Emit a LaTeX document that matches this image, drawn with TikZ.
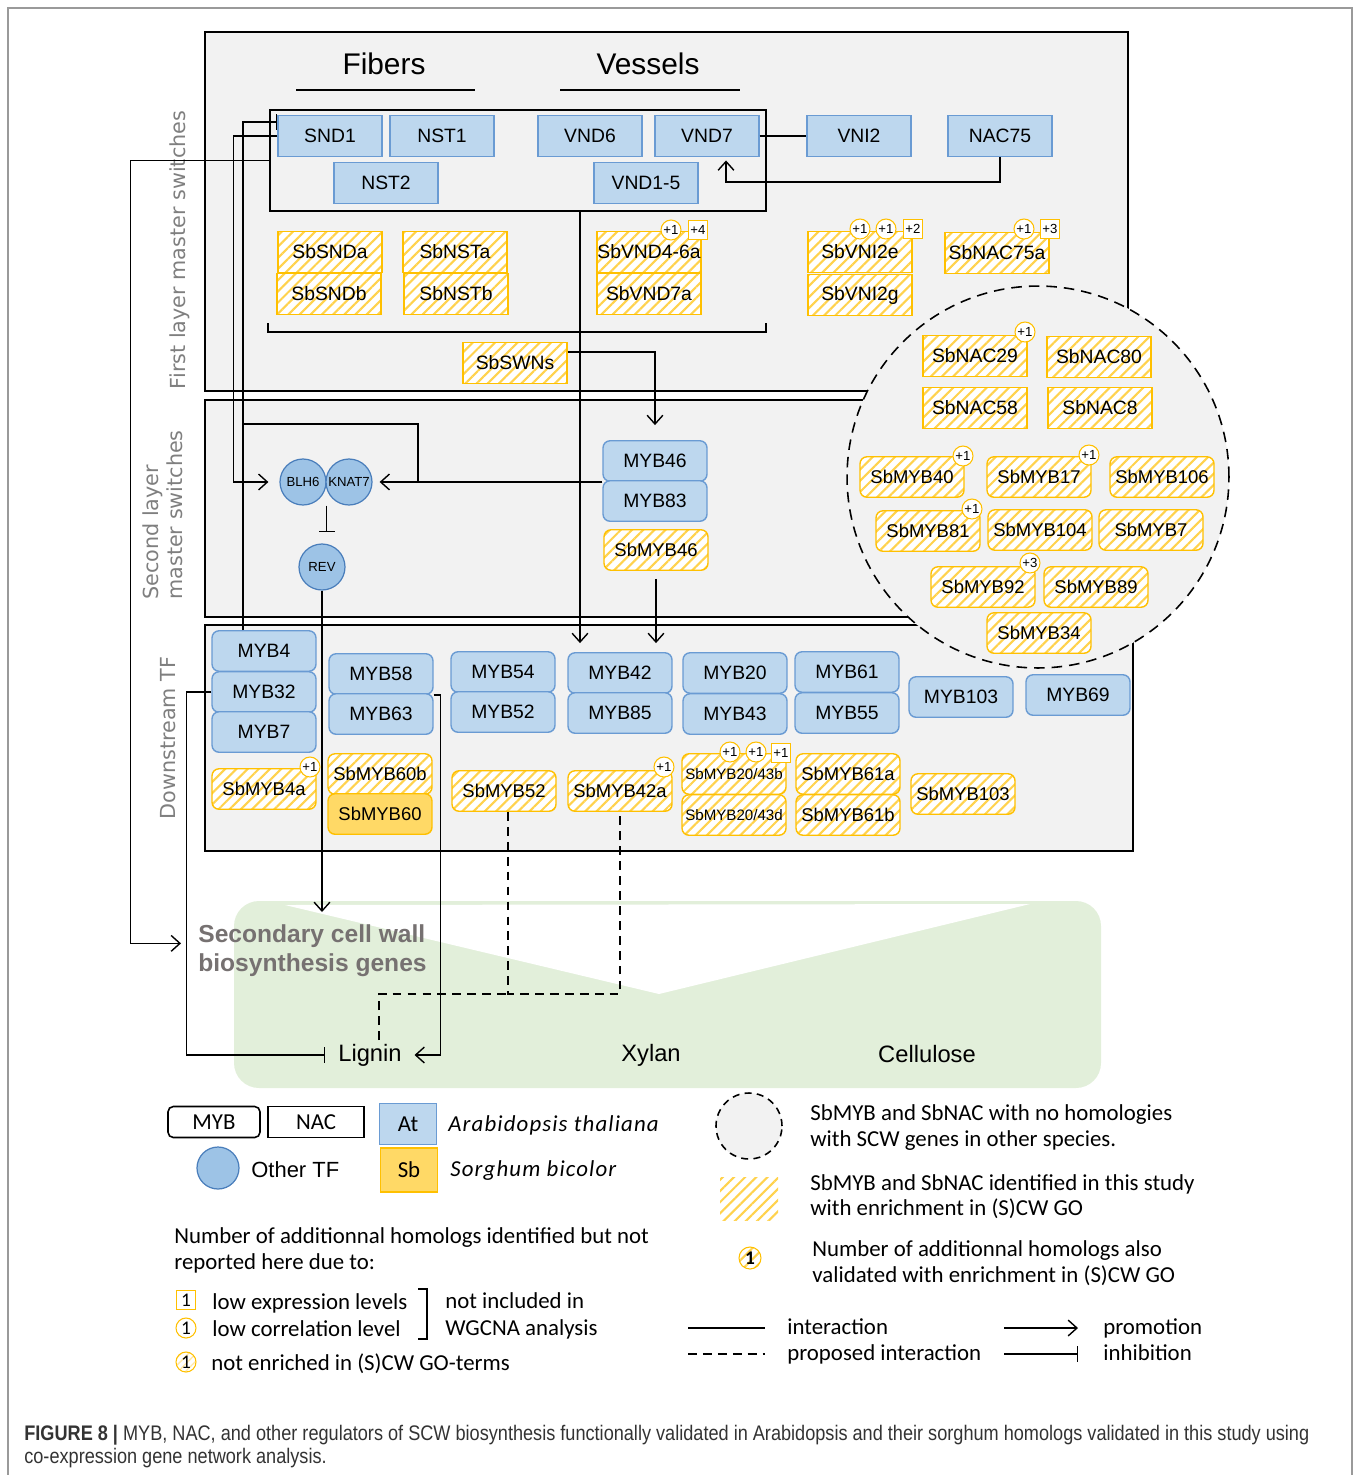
\documentclass[tikz,border=0pt]{standalone}
\usepackage{fontspec}
\setmainfont{Liberation Sans}
\newfontfamily\legfont{Carlito}
\newfontfamily\legitfont[LetterSpace=5]{Carlito}
\newfontfamily\sidefont{DejaVu Sans}
\newfontfamily\capfont[FakeStretch=0.86]{Liberation Sans}
\usetikzlibrary{arrows.meta,patterns.meta,positioning}

\definecolor{atfill}{HTML}{BDD7EE}
\definecolor{atedge}{HTML}{6A9BD3}
\definecolor{tffill}{HTML}{9DC3E6}
\definecolor{tfedge}{HTML}{4A7EBB}
\definecolor{sbhatch}{HTML}{FFD24D}
\definecolor{sbedge}{HTML}{FFC000}
\definecolor{sbfill}{HTML}{FFD966}
\definecolor{panel}{HTML}{F2F2F2}
\definecolor{wall}{HTML}{E2EFDA}
\definecolor{sidegray}{HTML}{7F7F7F}
\definecolor{wallgray}{HTML}{767171}
\definecolor{framegray}{HTML}{9A9A9A}
\definecolor{capgray}{HTML}{333333}

\tikzset{
	tf/.style={minimum width=2.08cm, minimum height=0.81cm, inner sep=0pt, font=\fontsize{11}{12}\selectfont},
	atnac/.style={tf, draw=atedge, fill=atfill, line width=0.8pt},
	atmyb/.style={atnac, rounded corners=4pt},
	hatch/.style={preaction={fill=white}, pattern={Lines[angle=45,distance=4.5pt,line width=1.2pt]}, pattern color=sbhatch},
	sbnac/.style={tf, hatch, draw=sbedge, line width=0.8pt},
	sbmyb/.style={sbnac, rounded corners=4pt, font=\fontsize{10.5}{11}\selectfont},
	sbsolid/.style={tf, draw=sbedge, fill=sbfill, line width=0.8pt, rounded corners=4pt, font=\fontsize{10.5}{11}\selectfont},
	othertf/.style={circle, draw=tfedge, fill=tffill, line width=0.7pt, minimum size=0.92cm, inner sep=0pt, font=\fontsize{7.5}{8}\selectfont},
	cbadge/.style={circle, draw=sbedge, fill=white, line width=0.6pt, minimum size=0.4cm, inner sep=0pt, font=\fontsize{7.5}{8}\selectfont},
	sqbadge/.style={rectangle, draw=sbedge, fill=white, line width=0.6pt, minimum size=0.38cm, inner sep=0pt, font=\fontsize{7.5}{8}\selectfont},
	sidelabel/.style={font=\sidefont\fontsize{11.8}{13}\selectfont, text=sidegray, inner sep=0pt},
	wallname/.style={font=\bfseries\fontsize{14}{16.5}\selectfont, text=wallgray, align=left, inner sep=0pt},
	polymer/.style={font=\fontsize{13.5}{14}\selectfont, inner sep=2pt},
	leg/.style={font=\legfont\fontsize{13}{14}\selectfont, anchor=base west, inner sep=0pt},
	legit/.style={leg, font=\legitfont\itshape\fontsize{13}{14}\selectfont},
	legbox/.style={draw, line width=0.9pt, minimum height=0.62cm, inner sep=0pt, font=\legfont\fontsize{13}{14}\selectfont},
	capstyle/.style={font=\capfont\fontsize{12}{14}\selectfont, text=capgray, anchor=base west, inner sep=0pt},
	link/.style={line width=0.8pt},
	pro/.style={link, -{Straight Barb[length=5pt,width=9pt]}},
	inh/.style={link, -{Bar[width=9pt]}},
	prop/.style={link, dash pattern=on 5pt off 3.5pt}
}

\begin{document}
\begin{tikzpicture}[x=0.02cm, y=-0.02cm]
	\useasboundingbox (0,0) rectangle (1359,1475);
	% Frame
	\draw[framegray, line width=0.6pt] (8,1475) -- (8,8) -- (1352,8) -- (1352,1475);
	
	% Panels
	\draw[fill=panel, line width=0.9pt] (205,32) rectangle (1128,391);
	\draw[fill=panel, line width=0.9pt] (205,400) rectangle (1128,617);
	\draw[fill=panel, line width=0.9pt] (205,625) rectangle (1133,851);
	\draw[fill=panel, line width=0.9pt, dash pattern=on 6pt off 4pt] (1038,477) circle (3.82cm);
	
	% Side labels
	\node[sidelabel, rotate=90] (first) at (180,250) {First layer master switches};
	\node[sidelabel, rotate=90, anchor=west] (second1) at (153,600) {Second layer};
	\node[sidelabel, rotate=90, anchor=west] (second2) at (175,600) {master switches};
	\node[sidelabel, rotate=90] (down) at (168,738) {Downstream TF};
	
	% Fibers / Vessels
	\node[font=\fontsize{17}{18}\selectfont] (fibers) at (384,64) {Fibers};
	\node[font=\fontsize{17}{18}\selectfont] (vessels) at (648,64) {Vessels};
	\draw[link] (296,90) -- (475,90);
	\draw[link] (560,90) -- (740,90);
	
	% Secondary cell wall
	\fill[wall, rounded corners=0.5cm] (234,901) rectangle (1101,1088);
	\fill[white] (285,905) -- (659,994) -- (1030,904) -- cycle;
	\node[wallname, anchor=north west] (scwtext) at (198,924) {Secondary cell wall\\biosynthesis genes};
	\node[polymer] (lignin) at (370,1055) {Lignin};
	\node[polymer] (xylan) at (651,1055) {Xylan};
	\node[polymer] (cellulose) at (927,1054) {Cellulose};
	
	% First layer
	\node[draw, line width=0.9pt, minimum width=9.92cm, minimum height=2.02cm] (atbox) at (518,160.5) {};
	\foreach \n/\x/\y/\t in {snd1/330/136/SND1, nst1/442/136/NST1, vnd6/590/136/VND6, vnd7/707/136/VND7, nst2/386/183/NST2, vnd15/646/183/VND1-5, vni2/859/136/VNI2, nac75/1000/136/NAC75}
	\node[atnac] (\n) at (\x,\y) {\t};
	\foreach \n/\x/\y/\t in {sbsnda/330/252/SbSNDa, sbsndb/329/294/SbSNDb, sbnsta/455/252/SbNSTa, sbnstb/456/294/SbNSTb, sbvnd46a/649/252/SbVND4-6a, sbvnd7a/649/294/SbVND7a, sbvni2e/860/252/SbVNI2e, sbvni2g/860/295/SbVNI2g, sbnac75a/997/253/SbNAC75a, sbswns/515/363/SbSWNs, sbnac29/975/356/SbNAC29, sbnac80/1099/357/SbNAC80, sbnac58/975/408/SbNAC58, sbnac8/1100/408/SbNAC8}
	\node[sbnac] (\n) at (\x,\y) {\t};
	\draw[link] (268,323) |- (766,332) -- (766,323);
	
	% Second layer
	\node[othertf] (blh6) at (303,482) {BLH6};
	\node[othertf] (knat7) at (349,482) {KNAT7};
	\node[othertf] (rev) at (322,567) {REV};
	
	% MYBs
	\foreach \n/\x/\y/\t in {myb46/655/461/MYB46, myb83/655/501/MYB83, myb4/264/651/MYB4, myb32/264/692/MYB32, myb7/264/732/MYB7, myb58/381/674/MYB58, myb63/381/714/MYB63, myb54/503/672/MYB54, myb52/503/712/MYB52, myb42/620/673/MYB42, myb85/620/713/MYB85, myb20/735/673/MYB20, myb43/735/714/MYB43, myb61/847/672/MYB61, myb55/847/713/MYB55, myb103/961/697/MYB103, myb69/1078/695/MYB69}
	\node[atmyb] (\n) at (\x,\y) {\t};
	\foreach \n/\x/\y/\t in {sbmyb46/656/550/SbMYB46, sbmyb4a/264/789/SbMYB4a, sbmyb60b/380/774/SbMYB60b, sbmyb52/504/791/SbMYB52, sbmyb42a/620/791/SbMYB42a, sbmyb61a/848/774/SbMYB61a, sbmyb61b/848/815/SbMYB61b, sbmyb103/963/794/SbMYB103, sbmyb40/912/477/SbMYB40, sbmyb17/1039/477/SbMYB17, sbmyb106/1162/477/SbMYB106, sbmyb81/928/531/SbMYB81, sbmyb104/1040/530/SbMYB104, sbmyb7/1151/530/SbMYB7, sbmyb92/983/587/SbMYB92, sbmyb89/1096/587/SbMYB89, sbmyb34/1039/633/SbMYB34}
	\node[sbmyb] (\n) at (\x,\y) {\t};
	\node[sbmyb, font=\fontsize{8.6}{9}\selectfont] (sbmyb2043b) at (734,774) {SbMYB20/43b};
	\node[sbmyb, font=\fontsize{8.6}{9}\selectfont] (sbmyb2043d) at (734,815) {SbMYB20/43d};
	\node[sbsolid] (sbmyb60) at (380,814) {SbMYB60};
	
	% Extra homologs
	\foreach \n/\x/\y/\t in {b1/671/230/+1, b2/860/229/+1, b3/886/229/+1, b4/1024/229/+1, b5/1025/332/+1, b6/963/456/+1, b7/1089/455/+1, b8/972/509/+1, b9/1030/563/+3, b10/310/767/+1, b11/664/767/+1, b12/730/752/+1, b13/756/752/+1}
	\node[cbadge] (\n) at (\x,\y) {\t};
	\foreach \n/\x/\y/\t in {s1/698/230/+4, s2/913/229/+2, s3/1050/229/+3, s4/781/753/+1}
	\node[sqbadge] (\n) at (\x,\y) {\t};
	
	% Interactions
	\draw[link] (vnd7) -- (vni2);
	\draw[pro, shorten >=2pt] (nac75.south) -- ++(0,25) -| ([xshift=0.38cm]vnd7.south);
	\draw[inh] (myb4.north -| 243,0) |- ([yshift=0.28cm]snd1.west);
	\draw[pro, shorten >=0.22cm] (snd1.west) -- ++(-44,0) |- (blh6.west);
	\draw[link] (243,424) -| (418,482);
	\draw[pro, shorten >=4pt] (myb46.south west) -- (myb46.south west -| knat7.east);
	\draw[inh, shorten >=0.22cm] (blh6.east |- blh6.south) -- (rev.north -| blh6.east);
	\draw[pro, shorten >=0.24cm] (rev.south) -- (rev |- scwtext.north);
	\draw[pro, shorten >=0.3cm] ([yshift=0.22cm]sbswns.east) -| (myb46.north);
	\draw[pro, shorten <=0.16cm, shorten >=0.18cm] (sbmyb46.south) -- (sbmyb46.south |- myb42.north);
	\draw[pro, shorten >=0.18cm] (atbox.south -| 580,0) -- (myb42.north -| 580,0);
	\draw[pro, shorten >=0.34cm] (atbox.west) -- ++(-139,0) |- ([yshift=0.14cm]scwtext.west);
	\draw[inh, shorten >=0.18cm] (myb32.west) -- ++(-25,0) |- (lignin.west);
	\draw[pro, shorten >=0.18cm] (myb58.south east) -- ++(7,0) |- (lignin.east);
	\coordinate (dj) at (508,994);
	\draw[prop] (sbmyb52.south -| dj) -- (dj) -| (sbmyb42a.south);
	\draw[prop] ([xshift=0.18cm]lignin.north) |- (dj);
	
	% Legend
	\node[legbox, rounded corners=3pt, minimum width=1.84cm] (lmyb) at (214,1122) {MYB};
	\node[legbox, minimum width=1.92cm] (lnac) at (316,1122) {NAC};
	\node[othertf, minimum size=0.84cm] (ltf) at (218,1168) {};
	\node[font=\fontsize{12.5}{13}\selectfont, anchor=base west, inner sep=0pt] (ltftext) at (251,1177) {Other TF};
	\node[atnac, minimum width=1.14cm, minimum height=0.82cm, font=\legfont\fontsize{13}{14}\selectfont] (lat) at (408,1124) {At};
	\node[sbsolid, rounded corners=0pt, minimum width=1.14cm, minimum height=0.88cm, font=\legfont\fontsize{13}{14}\selectfont] (lsb) at (409,1170) {Sb};
	\node[legit] (latname) at (448,1131) {Arabidopsis thaliana};
	\node[legit] (lsbname) at (450,1176) {Sorghum bicolor};
	
	\node[leg] (lnum1) at (174,1243) {Number of additionnal homologs identified but not};
	\node[leg] (lnum2) at (174,1269) {reported here due to:};
	\node[sqbadge, font=\legfont\fontsize{11}{12}\selectfont] (lsq) at (186,1300) {1};
	\node[leg] (lexpr) at (212,1309) {low expression levels};
	\node[cbadge, font=\legfont\fontsize{11}{12}\selectfont] (lcorr) at (186,1328) {1};
	\node[leg] (lcorrt) at (212,1336) {low correlation level};
	\draw[line width=1.6pt] (418,1289) -- (427,1289) -- (427,1339) -- (418,1339);
	\node[leg] (lwg1) at (445,1308) {not included in};
	\node[leg] (lwg2) at (445,1335) {WGCNA analysis};
	\node[cbadge, pattern={Lines[angle=45,distance=3pt,line width=0.8pt]}, pattern color=sbhatch!50, font=\legfont\fontsize{11}{12}\selectfont] (lgo) at (186,1362) {1};
	\node[leg] (lgot) at (211,1370) {not enriched in (S)CW GO-terms};
	
	\draw[fill=panel, line width=0.9pt, dash pattern=on 4pt off 3pt] (749,1126) circle (0.66cm);
	\node[leg] (lno1) at (810,1120) {SbMYB and SbNAC with no homologies};
	\node[leg] (lno2) at (810,1146) {with SCW genes in other species.};
	\fill[pattern={Lines[angle=45,distance=4.5pt,line width=1.2pt]}, pattern color=sbhatch] (720,1177) rectangle (778,1220);
	\node[leg] (lid1) at (810,1190) {SbMYB and SbNAC identified in this study};
	\node[leg] (lid2) at (810,1215) {with enrichment in (S)CW GO};
	\node[cbadge, hatch, font=\legfont\bfseries\fontsize{11}{12}\selectfont, minimum size=0.44cm] (lval) at (750,1258) {1};
	\node[leg] (lval1) at (812,1256) {Number of additionnal homologs also};
	\node[leg] (lval2) at (812,1282) {validated with enrichment in (S)CW GO};
	
	\draw[link] (688,1328) -- (765,1328);
	\draw[prop] (688,1354) -- (765,1354);
	\draw[pro] (1004,1328) -- (1078,1328);
	\draw[inh] (1004,1354) -- (1078,1354);
	\node[leg] (lint) at (787,1334) {interaction};
	\node[leg] (lprop) at (787,1360) {proposed interaction};
	\node[leg] (lpro) at (1103,1334) {promotion};
	\node[leg] (linh) at (1103,1360) {inhibition};
	
	% Caption
	\node[capstyle] (cap1) at (24,1440) {\textbf{FIGURE 8 |} MYB, NAC, and other regulators of SCW biosynthesis functionally validated in Arabidopsis and their sorghum homologs validated in this study using};
	\node[capstyle] (cap2) at (24,1463) {co-expression gene network analysis.};
\end{tikzpicture}
\end{document}
